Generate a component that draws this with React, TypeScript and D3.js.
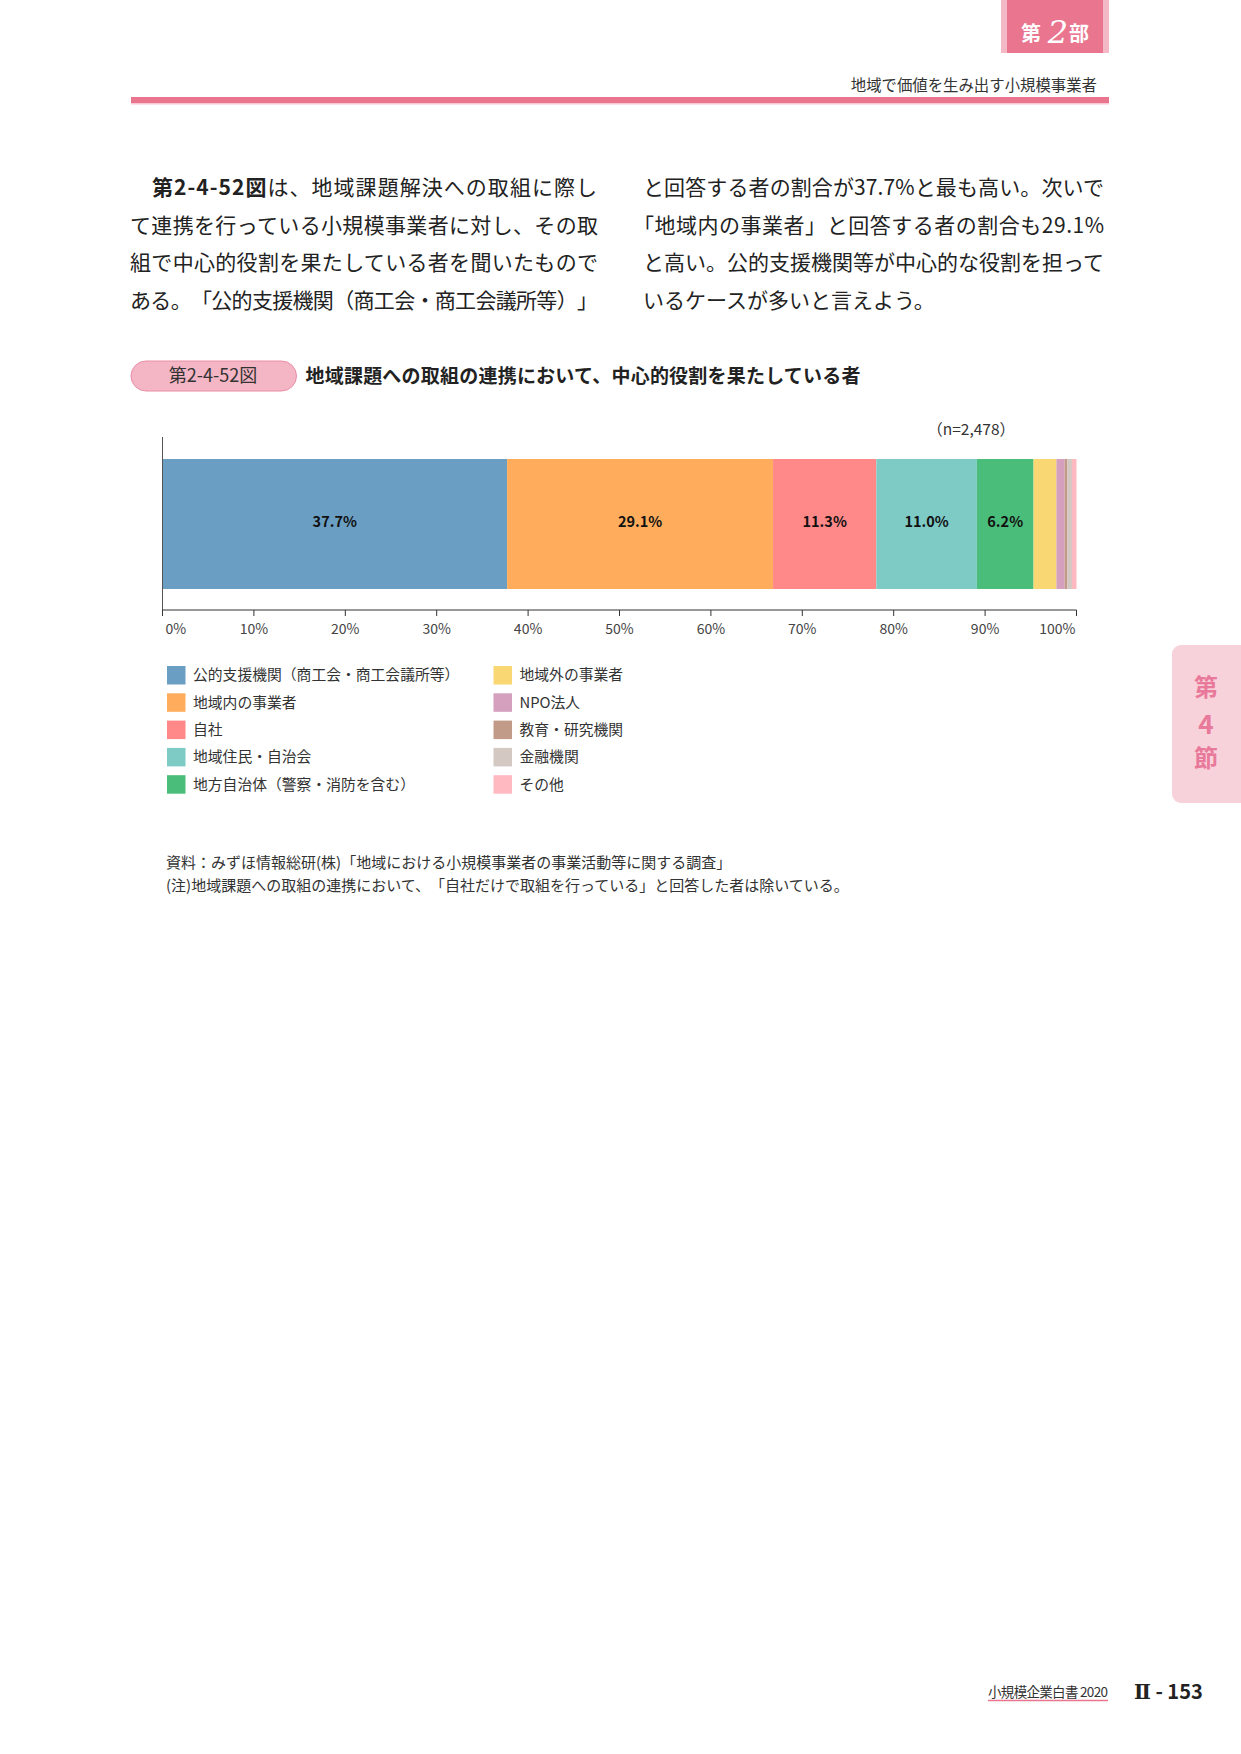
import React from 'react';
import * as d3 from 'd3';

// --- chart data ---
const categories = [
  '公的支援機関（商工会・商工会議所等）',
  '地域内の事業者',
  '自社',
  '地域住民・自治会',
  '地方自治体（警察・消防を含む）',
  '地域外の事業者',
  'NPO法人',
  '教育・研究機関',
  '金融機関',
  'その他',
];
const values = [37.7, 29.1, 11.3, 11.0, 6.2, 2.5, 0.9, 0.3, 0.5, 0.5];
const colors = [
  '#6a9fc3', '#ffad5c', '#ff8888', '#7ecbc6', '#4bbd7b',
  '#f9d772', '#d4a0bd', '#c29b88', '#d4c8c3', '#ffb9c1',
];
const tickValues = [0, 10, 20, 30, 40, 50, 60, 70, 80, 90, 100];
const sampleLabel = '（n=2,478）';

// --- page text ---
const leftLines = [
  'て連携を行っている小規模事業者に対し、その取',
  '組で中心的役割を果たしている者を聞いたもので',
  'ある。「公的支援機関（商工会・商工会議所等）」',
];
const rightLines = [
  'と回答する者の割合が37.7%と最も高い。次いで',
  '「地域内の事業者」と回答する者の割合も29.1%',
  'と高い。公的支援機関等が中心的な役割を担って',
  'いるケースが多いと言えよう。',
];
const notes = [
  '資料：みずほ情報総研(株)「地域における小規模事業者の事業活動等に関する調査」',
  '(注)地域課題への取組の連携において、「自社だけで取組を行っている」と回答した者は除いている。',
];

const FONT = '"Noto Sans CJK JP", "Noto Sans", sans-serif';
const PINK = '#e9758f';

const App: React.FC = () => {
  const W = 1241;
  const H = 1754;

  // Chart geometry
  const x = d3.scaleLinear().domain([0, 100]).range([162.5, 1076.5]);
  const barTop = 459;
  const barBottom = 589;
  const axisY = 610;
  const ends = Array.from(d3.cumsum(values));
  const segs = values.map((v, i) => ({ v, start: ends[i] - v, end: ends[i], color: colors[i] }));

  const bodyY = (i: number) => 187.5 + i * 37.7;

  return (
    <div style={{ position: 'absolute', left: 0, top: 0 }}>
      <svg width={W} height={H} fontFamily={FONT}
        style={{ display: 'block', background: '#fff', textSpacingTrim: 'space-all' } as React.CSSProperties}>
        {/* header tab */}
        <rect x={1001} y={0} width={108} height={53} fill="#f4b9c7" />
        <rect x={1007} y={0} width={96} height={53} fill={PINK} />
        <text x={1031} y={41} fill="#fff" fontSize={20} fontWeight="bold" textAnchor="middle">第</text>
        <text x={1058} y={43} fill="#fff" fontSize={32} fontStyle="italic" fontFamily='"DejaVu Serif", serif' textAnchor="middle">2</text>
        <text x={1079} y={41} fill="#fff" fontSize={20} fontWeight="bold" textAnchor="middle">部</text>

        <text x={1097} y={86} dy="0.35em" fontSize={15.4} fill="#333" textAnchor="end">地域で価値を生み出す小規模事業者</text>
        <rect x={131} y={97} width={978} height={6} fill={PINK} />
        <rect x={131} y={103} width={978} height={1.5} fill="#f6c6d1" />

        {/* body text */}
        <text x={152} y={bodyY(0)} dy="0.35em" fontSize={21} fill="#222" textLength={445} lengthAdjust="spacing">
          <tspan fontWeight="bold">第2-4-52図</tspan>は、地域課題解決への取組に際し
        </text>
        {leftLines.map((t, i) => (
          <text key={t} x={130} y={bodyY(i + 1)} dy="0.35em" fontSize={21} fill="#222" textLength={468} lengthAdjust="spacing">{t}</text>
        ))}
        {rightLines.map((t, i) => (
          <text key={t} x={i === 1 ? 633 : 643} y={bodyY(i)} dy="0.35em" fontSize={21} fill="#222"
            {...(i < 3 ? { textLength: i === 1 ? 471 : 461, lengthAdjust: 'spacing' } : {})}>{t}</text>
        ))}

        {/* figure caption */}
        <rect x={131} y={361} width={165.5} height={30} rx={15} fill="#f4b5c4" stroke="#ea8ea6" strokeWidth={1} />
        <text x={213} y={376} dy="0.35em" fontSize={18} fill="#333" textAnchor="middle">第2-4-52図</text>
        <text x={305.5} y={376} dy="0.35em" fontSize={19} fontWeight="bold" fill="#222"
          textLength={555} lengthAdjust="spacing">地域課題への取組の連携において、中心的役割を果たしている者</text>

        {/* sample size */}
        <text x={1015} y={430} dy="0.35em" fontSize={15.5} fill="#333" textAnchor="end">{sampleLabel}</text>

        {/* stacked bar */}
        {segs.map((s, i) => (
          <rect key={i} x={x(s.start)} y={barTop} width={x(s.end) - x(s.start)} height={barBottom - barTop} fill={s.color} />
        ))}
        {segs.filter(s => s.v >= 5).map((s, i) => (
          <text key={i} x={(x(s.start) + x(s.end)) / 2} y={(barTop + barBottom) / 2 - 2} dy="0.35em"
            fontSize={14.5} fontWeight="bold" fill="#111" textAnchor="middle">{s.v.toFixed(1)}%</text>
        ))}

        {/* axes */}
        <line x1={x(0)} x2={x(0)} y1={437} y2={axisY} stroke="#555" strokeWidth={1} />
        <line x1={x(0)} x2={x(100)} y1={axisY} y2={axisY} stroke="#333" strokeWidth={1.2} />
        {tickValues.map((t, i) => (
          <g key={t}>
            <line x1={x(t)} x2={x(t)} y1={axisY} y2={axisY + 6} stroke="#333" strokeWidth={1} />
            <text
              x={i === 0 ? x(t) + 3 : i === tickValues.length - 1 ? x(t) - 1 : x(t)}
              y={629} dy="0.35em" fontSize={14} fill="#444"
              textAnchor={i === 0 ? 'start' : i === tickValues.length - 1 ? 'end' : 'middle'}
            >{t}%</text>
          </g>
        ))}

        {/* legend */}
        {categories.map((c, i) => {
          const col = Math.floor(i / 5);
          const row = i % 5;
          const lx = col === 0 ? 167 : 493.5;
          const cy = 675.3 + row * 27.3;
          return (
            <g key={c}>
              <rect x={lx} y={cy - 9.3} width={18.5} height={18.5} fill={colors[i]} />
              <text x={lx + 26} y={cy} dy="0.35em" fontSize={14.8} fill="#333">{c}</text>
            </g>
          );
        })}

        {/* notes */}
        {notes.map((n, i) => (
          <text key={n} x={166} y={862.5 + i * 23.5} dy="0.35em" fontSize={15} fill="#333">{n}</text>
        ))}

        {/* side tab */}
        <rect x={1172} y={645} width={90} height={158} rx={9} fill="#f8d2db" />
        <text x={1206} y={688} dy="0.35em" fontSize={24} fontWeight="bold" fill="#e8799a" textAnchor="middle">第</text>
        <text x={1206} y={725} dy="0.35em" fontSize={26} fontWeight="bold" fill="#e8799a" textAnchor="middle">4</text>
        <text x={1206} y={759} dy="0.35em" fontSize={24} fontWeight="bold" fill="#e8799a" textAnchor="middle">節</text>

        {/* footer */}
        <text x={988} y={1692} dy="0.35em" fontSize={13.5} fill="#333" textLength={120} lengthAdjust="spacing">小規模企業白書 2020</text>
        <line x1={988} x2={1108} y1={1700.5} y2={1700.5} stroke={PINK} strokeWidth={1.5} />
        <text x={1134} y={1692} dy="0.35em" fontSize={20} fontWeight="bold" fill="#222">
          <tspan fontFamily='"DejaVu Serif", serif'>Ⅱ</tspan> - 153
        </text>
      </svg>
    </div>
  );
};

export default App;
